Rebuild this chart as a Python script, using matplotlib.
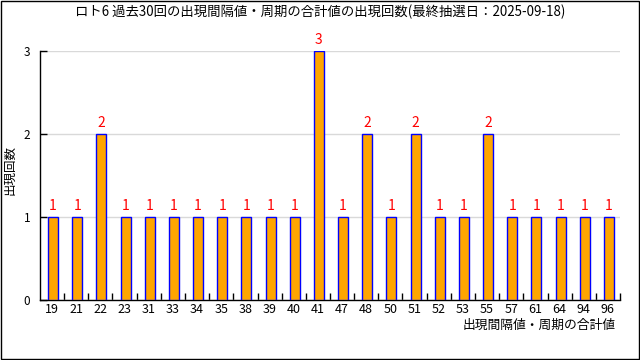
import matplotlib
matplotlib.use('Agg')
import matplotlib.pyplot as plt
import numpy as np
from matplotlib.patches import Rectangle

plt.rcParams['font.family'] = ['Noto Sans CJK JP', 'DejaVu Sans']

categories = ['19', '21', '22', '23', '31', '33', '34', '35', '38', '39', '40', '41',
              '47', '48', '50', '51', '52', '53', '55', '57', '61', '64', '94', '96']
counts = [1, 1, 2, 1, 1, 1, 1, 1, 1, 1, 1, 3,
          1, 2, 1, 2, 1, 1, 2, 1, 1, 1, 1, 1]

title = 'ロト6 過去30回の出現間隔値・周期の合計値の出現回数(最終抽選日：2025-09-18)'
xlabel = '出現間隔値・周期の合計値'
ylabel = '出現回数'

fig = plt.figure(figsize=(6.4, 3.6), dpi=100)
ax = fig.add_axes([40 / 640, 60 / 360, 580 / 640, 249 / 360])

x = np.arange(len(categories))
ax.bar(x + 0.04, counts, width=0.41, color='#ffa500', edgecolor='#0000ff',
       linewidth=1, zorder=3)

# value labels above each bar
for xi, v in zip(x, counts):
    ax.annotate(str(v), (xi + 0.04, v), xytext=(0, 3), textcoords='offset points',
                ha='center', va='bottom', color='#ff0000', fontsize=10,
                annotation_clip=False, zorder=4)

ax.set_xlim(-0.5, len(categories) - 0.5)
ax.set_ylim(0, 3)
ax.set_yticks([0, 1, 2, 3])
ax.set_xticks(x)
ax.set_xticklabels(categories, fontsize=9)
ax.set_xticks(x + 0.5, minor=True)
ax.tick_params(axis='x', which='major', length=0, pad=2)
ax.tick_params(axis='x', which='minor', direction='in', length=5, width=1, color='black')
ax.tick_params(axis='y', direction='in', length=5, width=1, labelsize=8.5, pad=7)

ax.grid(axis='y', color='#d9d9d9', linewidth=1, zorder=0)
ax.spines['top'].set_visible(False)
ax.spines['right'].set_visible(False)
for s in ('left', 'bottom'):
    ax.spines[s].set_color('black')
    ax.spines[s].set_linewidth(1)

fig.text(0.5, 1 - 12 / 360, title, ha='center', va='center', fontsize=9.6)
fig.text(616 / 640, 1 - 325 / 360, xlabel, ha='right', va='center', fontsize=9.2)
fig.text(10 / 640, 1 - 170 / 360, ylabel, ha='center', va='center', rotation=90, fontsize=9)

# thin black frame round the whole picture
fig.patches.append(Rectangle((0.0008, 0.0014), 0.9984, 0.9972, transform=fig.transFigure,
                             fill=False, edgecolor='black', linewidth=1))

fig.savefig('out.png', dpi=100)
